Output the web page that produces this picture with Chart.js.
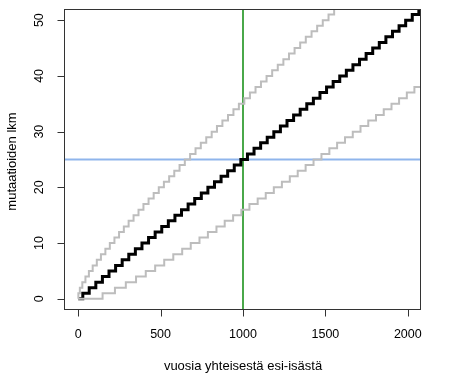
<!DOCTYPE html>
<html>
<head>
<meta charset="utf-8">
<script src="https://cdn.jsdelivr.net/npm/chart.js@4"></script>
<style>
  body { margin: 0; background: #fff; }
  canvas { display: block; }
</style>
</head>
<body>
<canvas id="chart" width="454" height="390"></canvas>
<script>
// Axis ticks
const xTicks = [0, 500, 1000, 1500, 2000];
const yTicks = [0, 10, 20, 30, 40, 50];

// Years at which each line goes up by one mutation
const medianSteps = [28, 67, 107, 147, 187, 227, 267, 307, 347, 387, 427, 467, 507, 547,
  587, 627, 667, 707, 747, 787, 827, 867, 907, 947, 987, 1027, 1067, 1107, 1147, 1187,
  1227, 1267, 1307, 1347, 1387, 1427, 1467, 1507, 1547, 1587, 1627, 1667, 1707, 1747,
  1787, 1827, 1867, 1907, 1947, 1987, 2027, 2067];
const upperSteps = [1, 10, 25, 44, 65, 88, 113, 138, 165, 192, 220, 248, 277, 306, 336,
  366, 396, 427, 458, 489, 520, 552, 583, 615, 647, 679, 712, 744, 777, 810, 842, 875,
  909, 942, 975, 1008, 1042, 1076, 1109, 1143, 1177, 1211, 1245, 1279, 1313, 1347, 1381,
  1416, 1450, 1484, 1519, 1553, 1588];
const lowerSteps = [148, 223, 289, 351, 410, 467, 522, 577, 631, 683, 736, 787, 839, 889,
  940, 990, 1039, 1089, 1138, 1187, 1236, 1284, 1332, 1380, 1428, 1476, 1524, 1571, 1619,
  1666, 1713, 1760, 1807, 1854, 1901, 1947, 1994, 2040];

// Reference lines
const refYear = 1000;
const refCount = 25;

const xMin = -80, xMax = 2080;
const yMin = -2, yMax = 52;

const TICK_FONT = '12.5px "Liberation Sans", Arial, sans-serif';
const TITLE_FONT = '13px "Liberation Sans", Arial, sans-serif';

function stepsToPoints(steps) {
  const pts = [{x: 0, y: 0}];
  steps.forEach((s, i) => pts.push({x: s, y: i + 1}));
  pts.push({x: 2200, y: steps.length});
  return pts;
}

function stepLine(steps, color, width) {
  return {
    data: stepsToPoints(steps),
    borderColor: color,
    borderWidth: width,
    stepped: 'before',
    pointRadius: 0,
    borderJoinStyle: 'miter',
    borderCapStyle: 'butt',
    clip: 0,
  };
}

// R-style box, ticks and labels
const rAxes = {
  id: 'rAxes',
  afterDraw(chart) {
    const ctx = chart.ctx;
    const a = chart.chartArea;
    const xs = chart.scales.x, ys = chart.scales.y;
    ctx.save();
    ctx.strokeStyle = '#333';
    ctx.lineWidth = 1;
    ctx.strokeRect(a.left - 0.5, a.top + 0.5, a.right - a.left, a.bottom - a.top - 1);

    ctx.fillStyle = '#000';
    ctx.textAlign = 'center';
    ctx.textBaseline = 'middle';

    // x axis
    ctx.beginPath();
    xTicks.forEach(v => {
      const px = Math.round(xs.getPixelForValue(v)) + 0.5;
      ctx.moveTo(px, a.bottom - 0.5);
      ctx.lineTo(px, a.bottom + 6.5);
    });
    ctx.stroke();
    ctx.font = TICK_FONT;
    xTicks.forEach(v => ctx.fillText(String(v), xs.getPixelForValue(v), 334.5));
    ctx.font = TITLE_FONT;
    ctx.fillText('vuosia yhteisestä esi-isästä', (a.left + a.right) / 2, 366);

    // y axis
    ctx.beginPath();
    yTicks.forEach(v => {
      const py = Math.round(ys.getPixelForValue(v)) + 0.5;
      ctx.moveTo(a.left - 0.5, py);
      ctx.lineTo(a.left - 7.5, py);
    });
    ctx.stroke();
    ctx.font = TICK_FONT;
    yTicks.forEach(v => {
      ctx.save();
      ctx.translate(39.5, ys.getPixelForValue(v));
      ctx.rotate(-Math.PI / 2);
      ctx.fillText(String(v), 0, 0);
      ctx.restore();
    });
    ctx.font = TITLE_FONT;
    ctx.save();
    ctx.translate(12.5, (a.top + a.bottom) / 2 + 2);
    ctx.rotate(-Math.PI / 2);
    ctx.fillText('mutaatioiden lkm', 0, 0);
    ctx.restore();
    ctx.restore();
  }
};

new Chart(document.getElementById('chart'), {
  type: 'line',
  data: {
    datasets: [
      stepLine(upperSteps, '#bdbdbd', 2),
      stepLine(lowerSteps, '#bdbdbd', 2),
      stepLine(medianSteps, '#000000', 3),
      {
        data: [{x: xMin, y: refCount}, {x: xMax, y: refCount}],
        borderColor: '#8fb5ec', borderWidth: 2, pointRadius: 0, clip: 0,
      },
      {
        data: [{x: refYear, y: yMin}, {x: refYear, y: yMax}],
        borderColor: '#4aa84a', borderWidth: 2, pointRadius: 0, clip: 0,
      },
    ]
  },
  options: {
    responsive: false,
    devicePixelRatio: 1,
    animation: false,
    layout: {padding: {left: 0, right: 33, top: 9, bottom: 0}},
    plugins: {legend: {display: false}, tooltip: {enabled: false}},
    scales: {
      x: {
        type: 'linear', min: xMin, max: xMax,
        grid: {display: false}, border: {display: false},
        ticks: {display: false},
        afterFit: s => { s.height = 80; },
      },
      y: {
        type: 'linear', min: yMin, max: yMax,
        grid: {display: false}, border: {display: false},
        ticks: {display: false},
        afterFit: s => { s.width = 65; },
      },
    }
  },
  plugins: [rAxes]
});
</script>
</body>
</html>
